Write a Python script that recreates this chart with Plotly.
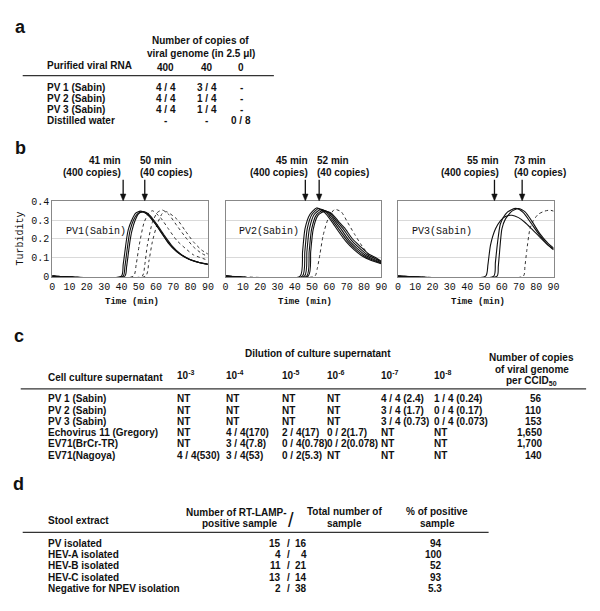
import plotly.graph_objects as go

W, H = 600, 611
SANS = "Liberation Sans, Arial, sans-serif"
MONO = "Liberation Mono, Courier New, monospace"

# ---------------- data: panel a ----------------
a_columns = ["400", "40", "0"]
a_rows = ["PV 1 (Sabin)", "PV 2 (Sabin)", "PV 3 (Sabin)", "Distilled water"]
a_values = [["4 / 4", "3 / 4", "-"],
            ["4 / 4", "1 / 4", "-"],
            ["4 / 4", "1 / 4", "-"],
            ["-", "-", "0 / 8"]]

# ---------------- data: panel b (turbidity curves) ----------------
time_ticks = [0, 10, 20, 30, 40, 50, 60, 70, 80, 90]
turb_ticks = [0, 0.1, 0.2, 0.3, 0.4]
turb_ticktext = ["0", "0.1", "0.2", "0.3", "0.4"]
panel_names = ["PV1(Sabin)", "PV2(Sabin)", "PV3(Sabin)"]
arrow_times = [[41.0, 53.5], [46.1, 54.1], [55.8, 71.8]]
arrow_labels = [["41 min", "50 min"], ["45 min", "52 min"], ["55 min", "73 min"]]
arrow_copies = ["(400 copies)", "(40 copies)"]

pv1_solid_t = [[0, 40, 41, 42, 43, 44, 46, 48, 51, 55, 59, 63, 67, 72, 77, 82, 86, 90],
               [0, 41, 42, 43, 44, 45, 47, 49, 52, 56, 60, 64, 68, 73, 78, 83, 87, 90],
               [0, 42, 43, 44, 45, 46, 48, 50, 53, 57, 61, 65, 69, 74, 79, 84, 88, 90]]
pv1_solid_y = [[0, 0, 0.06, 0.13, 0.2, 0.25, 0.3, 0.335, 0.348, 0.33, 0.287, 0.235, 0.178, 0.13, 0.1, 0.08, 0.07, 0.065],
               [0, 0, 0.05, 0.12, 0.19, 0.245, 0.3, 0.33, 0.345, 0.325, 0.275, 0.22, 0.17, 0.125, 0.095, 0.078, 0.068, 0.063],
               [0, 0, 0.05, 0.12, 0.19, 0.24, 0.3, 0.335, 0.345, 0.32, 0.27, 0.215, 0.165, 0.12, 0.092, 0.075, 0.066, 0.062]]
pv1_dot_t = [[0, 47, 48.5, 50.3, 53.1, 56, 58, 62.6, 67.4, 72.1, 76.9, 81.6, 90],
             [0, 52, 53.5, 55, 57.9, 60.7, 63.6, 67.4, 72.1, 76.9, 81.6, 86.3, 90],
             [0, 54, 55.9, 57.9, 60.7, 63.6, 66, 72.1, 76.9, 81.6, 86.3, 90]]
pv1_dot_y = [[0, 0, 0.06, 0.166, 0.287, 0.34, 0.35, 0.313, 0.25, 0.19, 0.149, 0.114, 0.085],
             [0, 0, 0.06, 0.166, 0.287, 0.34, 0.354, 0.33, 0.27, 0.21, 0.157, 0.122, 0.105],
             [0, 0, 0.08, 0.184, 0.278, 0.335, 0.345, 0.305, 0.243, 0.184, 0.14, 0.118]]

pv2_solid_t = [[0, 43.1, 44.5, 45.9, 48.8, 52.6, 57.3, 61.1, 64.9, 69.7, 74.4, 79.2, 83.9, 90],
               [0, 44.4, 45.8, 47.2, 50.0, 53.8, 58.3, 62.1, 65.9, 70.6, 75.3, 80.0, 84.7, 90],
               [0, 45.6, 47.0, 48.4, 51.2, 55.0, 59.3, 63.1, 66.9, 71.5, 76.2, 80.9, 85.5, 90],
               [0, 46.9, 48.3, 49.7, 52.5, 56.2, 60.3, 64.1, 67.9, 72.4, 77.1, 81.7, 86.3, 90],
               [0, 47.8, 49.2, 50.6, 53.4, 57.3, 61.2, 65.0, 68.8, 73.3, 78.0, 82.5, 86.9, 90]]
pv2_solid_y = [[0, 0, 0.13, 0.253, 0.331, 0.365, 0.34, 0.296, 0.244, 0.184, 0.14, 0.106, 0.085, 0.066],
               [0, 0, 0.13, 0.253, 0.331, 0.362, 0.34, 0.296, 0.246, 0.187, 0.143, 0.109, 0.087, 0.069],
               [0, 0, 0.13, 0.25, 0.33, 0.357, 0.34, 0.296, 0.25, 0.19, 0.147, 0.112, 0.09, 0.072],
               [0, 0, 0.13, 0.25, 0.328, 0.352, 0.338, 0.296, 0.254, 0.195, 0.152, 0.116, 0.094, 0.076],
               [0, 0, 0.13, 0.248, 0.325, 0.348, 0.336, 0.296, 0.258, 0.2, 0.158, 0.12, 0.098, 0.08]]
pv2_dot_t = [[0, 51.6, 53.0, 54.5, 56.4, 59.2, 63.0, 66.8, 70.6, 74.4, 79.2, 83.9, 90]]
pv2_dot_y = [[0, 0, 0.04, 0.114, 0.218, 0.305, 0.357, 0.345, 0.287, 0.227, 0.157, 0.106, 0.08]]

pv3_solid_t = [[0, 50.7, 52.0, 53.5, 56.4, 59.2, 62.1, 65.9, 69.7, 73.5, 77.3, 82.0, 86.8, 90],
               [0, 55.4, 56.3, 57.4, 59.2, 62.1, 65.9, 68.7, 72.5, 77.3, 82.0, 86.8, 90],
               [0, 57.3, 58.0, 58.6, 60.1, 62.1, 65.9, 69.7, 73.5, 77.3, 82.0, 86.8, 90]]
pv3_solid_y = [[0, 0, 0.06, 0.166, 0.253, 0.296, 0.319, 0.326, 0.313, 0.287, 0.253, 0.209, 0.166, 0.145],
               [0, 0, 0.07, 0.166, 0.279, 0.331, 0.357, 0.362, 0.34, 0.279, 0.218, 0.166, 0.14],
               [0, 0, 0.05, 0.114, 0.253, 0.305, 0.348, 0.362, 0.344, 0.296, 0.227, 0.175, 0.15]]
pv3_dot_t = [[0, 72.5, 73.4, 74.4, 76.3, 78.2, 81.1, 84.8, 87.7, 90]]
pv3_dot_y = [[0, 0, 0.05, 0.131, 0.253, 0.296, 0.331, 0.348, 0.353, 0.348]]

# ---------------- data: panel c ----------------
c_dilutions = ["10<sup>-3</sup>", "10<sup>-4</sup>", "10<sup>-5</sup>",
               "10<sup>-6</sup>", "10<sup>-7</sup>", "10<sup>-8</sup>"]
c_rows = ["PV 1 (Sabin)", "PV 2 (Sabin)", "PV 3 (Sabin)",
          "Echovirus 11 (Gregory)", "EV71(BrCr-TR)", "EV71(Nagoya)"]
c_values = [["NT", "NT", "NT", "NT", "4 / 4 (2.4)", "1 / 4 (0.24)"],
            ["NT", "NT", "NT", "NT", "3 / 4 (1.7)", "0 / 4 (0.17)"],
            ["NT", "NT", "NT", "NT", "3 / 4 (0.73)", "0 / 4 (0.073)"],
            ["NT", "4 / 4(170)", "2 / 4(17)", "0 / 2(1.7)", "NT", "NT"],
            ["NT", "3 / 4(7.8)", "0 / 4(0.78)", "0 / 2(0.078)", "NT", "NT"],
            ["4 / 4(530)", "3 / 4(53)", "0 / 2(5.3)", "NT", "NT", "NT"]]
c_copies = ["56", "110", "153", "1,650", "1,700", "140"]

# ---------------- data: panel d ----------------
d_rows = ["PV isolated", "HEV-A isolated", "HEV-B isolated", "HEV-C isolated",
          "Negative for NPEV isolation"]
d_positive = [15, 4, 11, 13, 2]
d_total = [16, 4, 21, 14, 38]
d_percent = ["94", "100", "52", "93", "5.3"]

# ---------------- layout constants (pixels) ----------------
X_DOMAINS = [(50, 208), (226, 384), (401, 559)]
Y_TOP, Y_BOT = 200, 277
LEFT_LABEL_SHIFT = [-1, 4, 6]
RIGHT_LABEL_SHIFT = [-6, -3, -9]

annotations = []
shapes = []


def px(x):
    return x / W


def py(y):
    return 1 - y / H


def txt(x, y, s, size=10, anchor="left", bold=True, family=SANS, color="#111", angle=0,
        xref="paper", xshift=0):
    annotations.append(dict(
        x=(px(x) if xref == "paper" else x), y=py(y), xref=xref, yref="paper",
        text=("<b>%s</b>" % s) if bold else s,
        showarrow=False, xanchor=anchor, yanchor="middle", textangle=angle, xshift=xshift,
        font=dict(family=family, size=size, color=color), borderpad=0))


def hline(x0, x1, y, width=1.3):
    shapes.append(dict(type="line", xref="paper", yref="paper", x0=px(x0), x1=px(x1),
                       y0=py(y), y1=py(y), line=dict(color="#333", width=width)))


fig = go.Figure()

# ---------------- panel a ----------------
txt(18, 22, "a", size=18, anchor="center")
txt(200, 36, "Number of copies of", anchor="center")
txt(201, 49, "viral genome (in 2.5 \u03bcl)", anchor="center")
txt(44, 62, "Purified viral RNA")
a_colx = [165, 207, 242]
for j, c in enumerate(a_columns):
    txt(a_colx[j], 64, c, anchor="center")
hline(20, 275, 72)
for i, r in enumerate(a_rows):
    yy = 84 + i * 11.3
    txt(44, yy, r)
    for j, v in enumerate(a_values[i]):
        txt(a_colx[j], yy, v, anchor="center")

# ---------------- panel b ----------------
txt(18, 146, "b", size=18, anchor="center")
solid_sets = [(pv1_solid_t, pv1_solid_y), (pv2_solid_t, pv2_solid_y), (pv3_solid_t, pv3_solid_y)]
dot_sets = [(pv1_dot_t, pv1_dot_y), (pv2_dot_t, pv2_dot_y), (pv3_dot_t, pv3_dot_y)]

for k in range(3):
    xa = "x" if k == 0 else "x%d" % (k + 1)
    ya = "y" if k == 0 else "y%d" % (k + 1)
    for ts, ys in zip(*dot_sets[k]):
        fig.add_trace(go.Scatter(x=ts, y=ys, mode="lines", xaxis=xa, yaxis=ya,
                                 line=dict(color="#333", width=1, dash="dot", shape="spline", smoothing=0.6),
                                 showlegend=False, hoverinfo="skip"))
    for ts, ys in zip(*solid_sets[k]):
        fig.add_trace(go.Scatter(x=ts, y=ys, mode="lines", xaxis=xa, yaxis=ya,
                                 line=dict(color="#111", width=1.1, shape="spline", smoothing=0.6),
                                 showlegend=False, hoverinfo="skip"))
    x0, x1 = X_DOMAINS[k]
    ax_common = dict(domain=[px(x0), px(x1)], range=[0, 90], tickvals=time_ticks,
                     showgrid=False, zeroline=False, showline=True, linecolor="#888", linewidth=1,
                     mirror=True, ticks="", tickfont=dict(family=MONO, size=10, color="#111"),
                     anchor=ya, fixedrange=True)
    ay_common = dict(domain=[py(Y_BOT), py(Y_TOP)], range=[-0.005, 0.4], tickvals=turb_ticks,
                     ticktext=turb_ticktext, showgrid=True, gridcolor="#d9d9d9", gridwidth=1,
                     zeroline=False, showline=True, linecolor="#888", linewidth=1, mirror=True,
                     ticks="", showticklabels=(k == 0), tickfont=dict(family=MONO, size=10, color="#111"),
                     anchor=xa, fixedrange=True)
    key = "" if k == 0 else str(k + 1)
    fig.update_layout(**{"xaxis" + key: ax_common, "yaxis" + key: ay_common})

    # arrows (shapes tied to the time axis)
    for n, t in enumerate(arrow_times[k]):
        shapes.append(dict(type="line", xref=xa, yref="paper", x0=t, x1=t,
                           y0=py(178), y1=py(193), line=dict(color="#111", width=1.3)))
        shapes.append(dict(type="path", xref=xa, yref="paper",
                           path="M %f,%f L %f,%f L %f,%f Z" % (t - 1.6, py(192.5), t + 1.6, py(192.5),
                                                               t, py(199.5)),
                           fillcolor="#111", line=dict(color="#111", width=0.5)))
    tl, tr = arrow_times[k]
    txt(tl, 158, arrow_labels[k][0], anchor="right", xref=xa, xshift=LEFT_LABEL_SHIFT[k])
    txt(tl, 171, arrow_copies[0], anchor="right", xref=xa, xshift=LEFT_LABEL_SHIFT[k])
    txt(tr, 158, arrow_labels[k][1], anchor="left", xref=xa, xshift=RIGHT_LABEL_SHIFT[k])
    txt(tr, 171, arrow_copies[1], anchor="left", xref=xa, xshift=RIGHT_LABEL_SHIFT[k])

    # panel name and axis title
    txt(x0 + 13, 231, panel_names[k], size=10, bold=False, family=MONO, color="#111")
    txt((x0 + x1) / 2 + 2, 302, "Time (min)", size=9, anchor="center", family=MONO, color="#111")

txt(18, 238, "Turbidity", size=10, anchor="center", bold=False, family=MONO, color="#111", angle=-90)

# ---------------- panel c ----------------
txt(16, 337, "c", size=18, anchor="center")
txt(320, 355, "Dilution of culture supernatant", anchor="center")
txt(45, 379, "Cell culture supernatant")
c_colx = [176, 225, 282, 328, 383, 437]
for j, d in enumerate(c_dilutions):
    txt(c_colx[j], 377, d)
txt(537, 359, "Number of copies", anchor="center")
txt(537, 371, "of viral genome", anchor="center")
txt(537, 383, "per CCID<sub>50</sub>", anchor="center")
hline(18, 592, 391)
for i, r in enumerate(c_rows):
    yy = 401 + i * 11.5
    txt(45, yy, r)
    for j, v in enumerate(c_values[i]):
        txt(c_colx[j], yy, v)
    txt(548, yy, c_copies[i], anchor="right")

# ---------------- panel d ----------------
txt(16, 488, "d", size=18, anchor="center")
txt(45, 525, "Stool extract")
txt(237, 517, "Number of RT-LAMP-", anchor="center")
txt(240, 528, "positive sample", anchor="center")
txt(292, 524, "/", size=20, anchor="center", bold=False)
txt(347, 516, "Total number of", anchor="center")
txt(347, 528, "sample", anchor="center")
txt(441, 516, "% of positive", anchor="center")
txt(441, 528, "sample", anchor="center")
hline(20, 493, 537)
for i, r in enumerate(d_rows):
    yy = 548 + i * 11.5
    txt(45, yy, r)
    txt(283, yy, str(d_positive[i]), anchor="right")
    txt(290, yy, "/", anchor="center")
    txt(310, yy, str(d_total[i]), anchor="right")
    txt(447, yy, d_percent[i], anchor="right")

fig.update_layout(width=W, height=H, margin=dict(l=0, r=0, t=0, b=0),
                  paper_bgcolor="white", plot_bgcolor="white", showlegend=False,
                  annotations=annotations, shapes=shapes)

fig.write_html("out.html", config={"displayModeBar": False},
               post_script="document.body.style.margin='0px';")
